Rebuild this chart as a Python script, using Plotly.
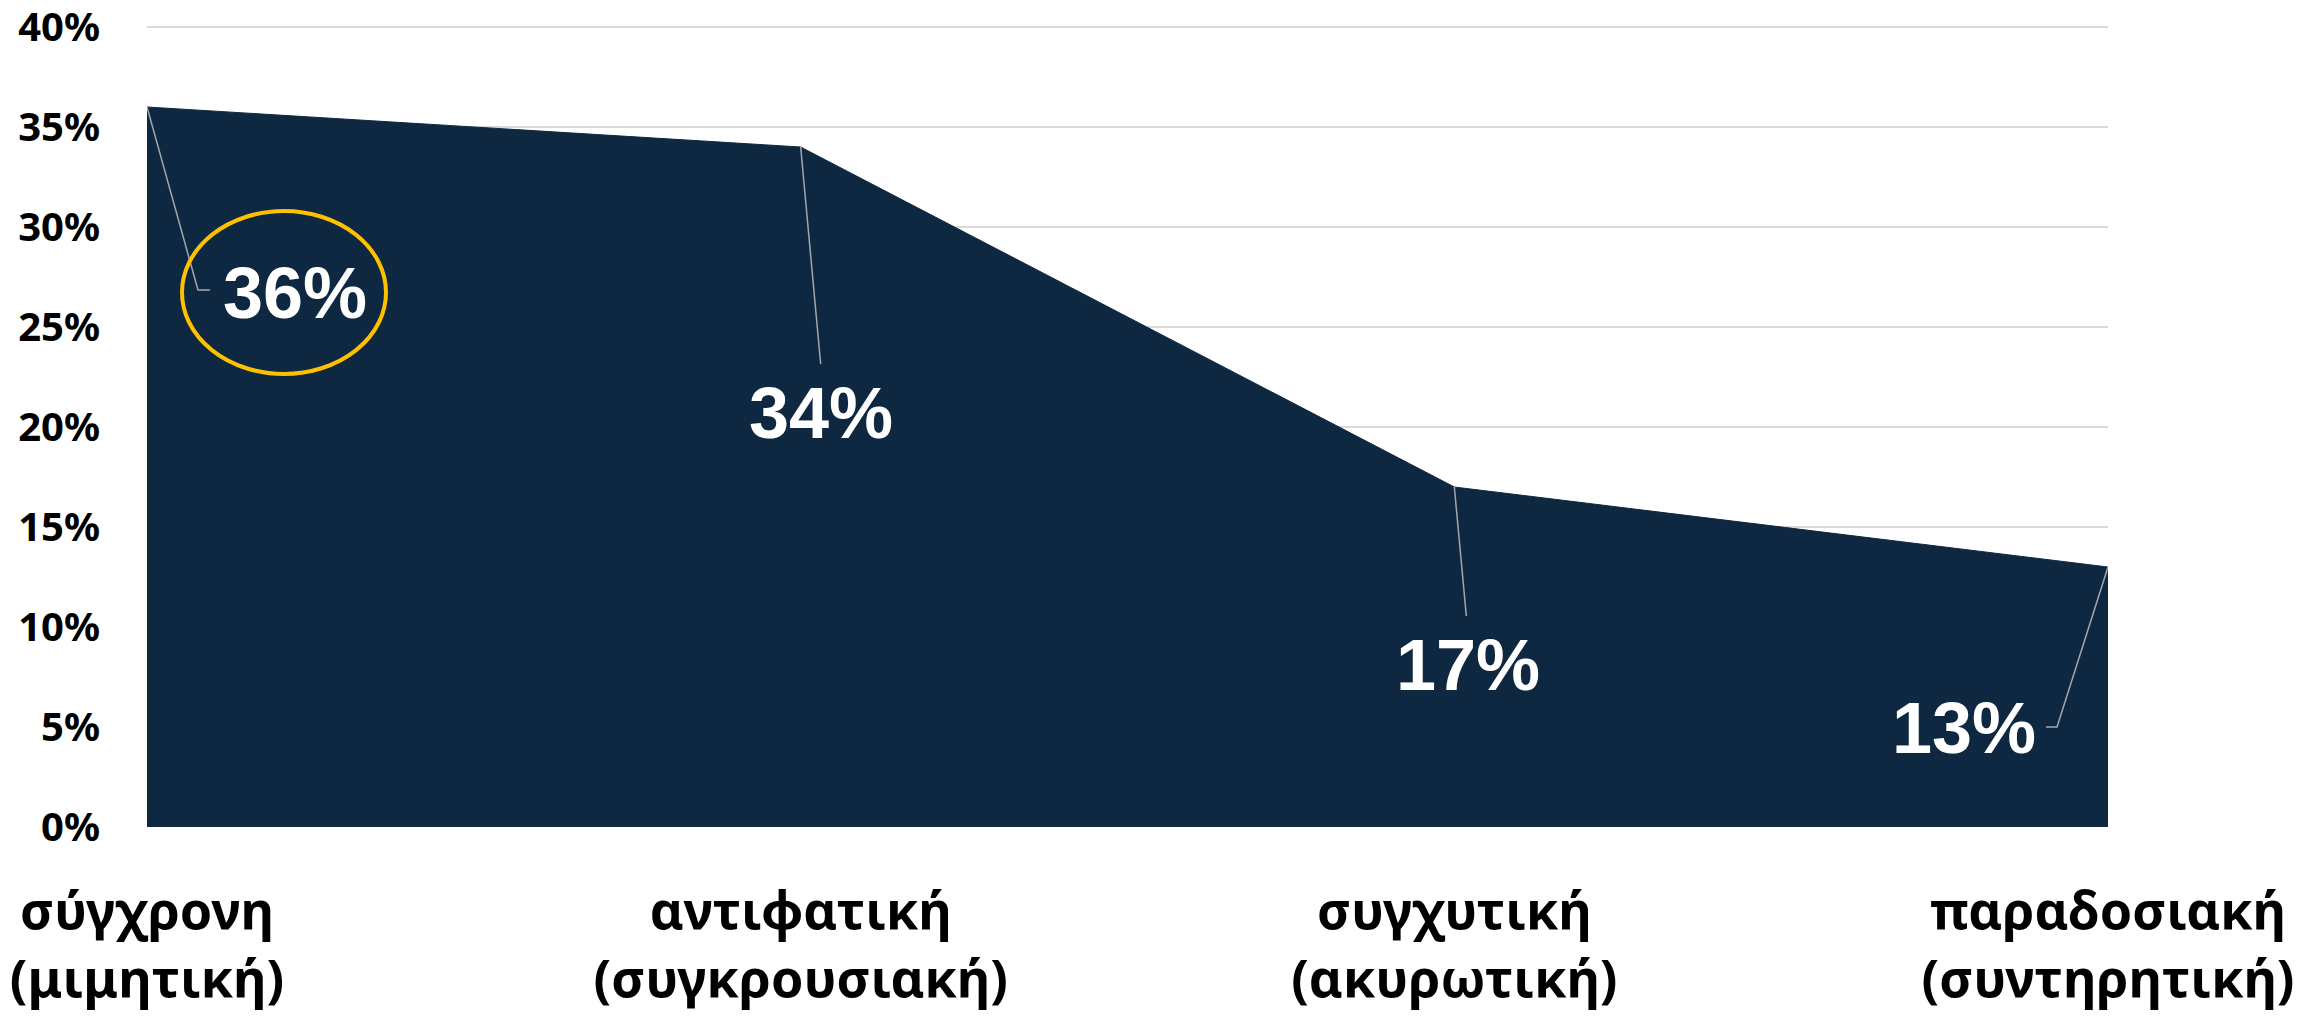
import plotly.graph_objects as go

# ---- data ----
categories = ["σύγχρονη<br>(μιμητική)", "αντιφατική<br>(συγκρουσιακή)",
              "συγχυτική<br>(ακυρωτική)", "παραδοσιακή<br>(συντηρητική)"]
values = [36, 34, 17, 13]
value_labels = ["36%", "34%", "17%", "13%"]
y_ticks = [0, 5, 10, 15, 20, 25, 30, 35, 40]

# ---- label placement (pixel offsets from each data point) ----
label_shift = [(148, -186), (20, -266), (14, -178), (-144, -161)]
leader_paths = [
    "M 0 0 L 51 -183 L 63 -183",
    "M 0 0 L 20 -217",
    "M 0 0 L 12 -129",
    "M 0 0 L -51 -160 L -62 -160",
]

x_idx = list(range(len(categories)))

fig = go.Figure()
fig.add_trace(go.Scatter(
    x=x_idx, y=values, mode="lines", fill="tozeroy",
    fillcolor="#0F2841", line=dict(color="#0F2841", width=1),
    hoverinfo="skip", showlegend=False,
))

annotations = []
shapes = []
for i, (v, lab) in enumerate(zip(values, value_labels)):
    dx, dy = label_shift[i]
    annotations.append(dict(
        x=x_idx[i], y=v, xref="x", yref="y", text=lab, showarrow=False,
        xshift=dx, yshift=dy,
        font=dict(family="Liberation Sans", size=72, color="white", weight="bold"),
    ))
    shapes.append(dict(
        type="path", xref="x", yref="y", xsizemode="pixel", ysizemode="pixel",
        xanchor=x_idx[i], yanchor=v, path=leader_paths[i],
        line=dict(color="#A6A6A6", width=1.5), layer="above",
    ))

# highlight ellipse around first label
shapes.append(dict(
    type="circle", xref="x", yref="y", xsizemode="pixel", ysizemode="pixel",
    xanchor=x_idx[0], yanchor=values[0], x0=35, x1=239, y0=-267, y1=-104,
    line=dict(color="#FFC000", width=4), layer="above",
))

fig.update_layout(
    width=2312, height=1013,
    margin=dict(l=139, r=212, t=17, b=194),
    paper_bgcolor="white", plot_bgcolor="white",
    annotations=annotations, shapes=shapes,
    xaxis=dict(
        range=[0, 3], tickvals=x_idx, ticktext=categories, automargin=False,
        showgrid=False, zeroline=False, showline=False, ticks="",
        ticklabelstandoff=49, ticklabeloverflow="allow",
        tickfont=dict(family="Noto Sans", size=52, color="black", weight="bold"),
    ),
    yaxis=dict(
        range=[0, 40.1], tickvals=y_ticks, ticktext=[f"{t}%" for t in y_ticks],
        automargin=False, ticklabeloverflow="allow",
        showgrid=True, gridcolor="#D9D9D9", gridwidth=1.5,
        zeroline=False, showline=False, ticks="", ticklabelstandoff=46,
        tickfont=dict(family="Noto Sans", size=40, color="black", weight="bold"),
    ),
)

fig.write_html("out.html")
